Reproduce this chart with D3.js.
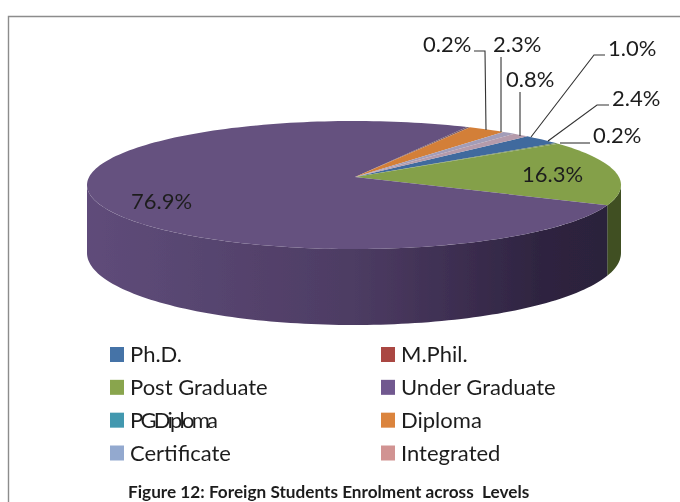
<!DOCTYPE html>
<html>
<head>
<meta charset="utf-8">
<script src="https://cdn.jsdelivr.net/npm/d3@7"></script>
<style>
html, body { margin: 0; padding: 0; background: #fff; }
text { font-family: Lato, "Open Sans", sans-serif; fill: #1f1f1f; }
</style>
</head>
<body>
<div id="chart"></div>
<script>
var levels = ["Ph.D.", "M.Phil.", "Post Graduate", "Under Graduate", "PGDiploma", "Diploma", "Certificate", "Integrated"];
var shares = [2.4, 0.2, 16.3, 76.9, 0.2, 2.3, 0.8, 1.0];
var colors = ["#4573a7", "#aa4643", "#89a54e", "#71588f", "#4298af", "#db843d", "#93a9cf", "#d19392"];
// top face is a bit duller than the legend, the two thin slices hardly show
var topColors = ["#3f6a9e", "#70895a", "#84a04a", "#65517f", "#7a5f6c", "#d37f39", "#a39db8", "#b59bab"];
var title = "Figure 12: Foreign Students Enrolment across  Levels";

var WIDTH = 680, HEIGHT = 502;
var cx = 354, cy = 185, rx = 267, ry = 64;
var apex = [355, 177];
var toRad = Math.PI / 180;

var svg = d3.select("#chart").append("svg")
    .attr("width", WIDTH)
    .attr("height", HEIGHT)
    .style("display", "block");

var defs = svg.append("defs");
var grad = defs.append("linearGradient")
    .attr("id", "sideGrad")
    .attr("gradientUnits", "userSpaceOnUse")
    .attr("x1", cx - rx).attr("x2", cx + rx).attr("y1", 0).attr("y2", 0);
grad.append("stop").attr("offset", "0").attr("stop-color", "#5f4c7a");
grad.append("stop").attr("offset", "0.5").attr("stop-color", "#4d3c63");
grad.append("stop").attr("offset", "0.68").attr("stop-color", "#3e2f52");
grad.append("stop").attr("offset", "0.85").attr("stop-color", "#2e2440");
grad.append("stop").attr("offset", "1").attr("stop-color", "#2b2139");
defs.append("filter").attr("id", "soft")
    .append("feGaussianBlur").attr("stdDeviation", 0.45);

var root = svg.append("g").attr("filter", "url(#soft)");

// frame, only top and left are in the picture
root.append("path")
    .attr("d", line0())
    .attr("fill", "none")
    .attr("stroke", "#8c8c8c")
    .attr("stroke-width", 1.4);
function line0() {
    return d3.line()([[8.5, HEIGHT + 2], [8.5, 16.5], [WIDTH + 2, 16.5]]);
}

var pie = d3.pie().sort(null)
    .startAngle(40.5 * toRad)
    .endAngle((40.5 + 360) * toRad);
var arcs = pie(shares);

function rim(a, dy, r) {
    return [cx + rx * Math.sin(a), cy - (r || ry) * Math.cos(a) + (dy || 0)];
}
function rimPoints(a0, a1, dy, r) {
    var n = Math.max(2, Math.ceil((a1 - a0) / (toRad * 1.5)));
    return d3.range(n + 1).map(function(i) { return rim(a0 + (a1 - a0) * i / n, dy, r); });
}
var line = d3.line();

// side wall, only the front half of the rim shows
var sides = root.append("g");
arcs.forEach(function(d, i) {
    var a0 = Math.max(d.startAngle, 90 * toRad);
    var a1 = Math.min(d.endAngle, 270 * toRad);
    if (a1 <= a0) return;
    var pts = rimPoints(a0, a1, 0).concat(rimPoints(a0, a1, 68, 72).reverse());
    sides.append("path")
        .attr("d", line(pts) + "Z")
        .attr("fill", levels[i] == "Under Graduate" ? "url(#sideGrad)" : "#3f4f24");
});

// top face
var tops = root.append("g");
arcs.forEach(function(d, i) {
    var pts = [apex].concat(rimPoints(d.startAngle, d.endAngle, 0));
    tops.append("path")
        .attr("d", line(pts) + "Z")
        .attr("fill", topColors[i]);
});

// value labels
var labelAt = [[423, 52], [493, 52], [506, 87], [608, 56], [612, 106], [593, 143], [522, 182], [131, 209]];
var labelIdx = [4, 5, 6, 7, 0, 1, 2, 3];
labelIdx.forEach(function(k, j) {
    root.append("text")
        .attr("x", labelAt[j][0]).attr("y", labelAt[j][1])
        .attr("font-size", 22)
        .text(shares[k].toFixed(1) + "%");
});

// leader lines
var leaders = [
    [[474, 51], [485, 51], [486, 130]],
    [[501, 57], [501, 132]],
    [[520, 92], [520, 136]],
    [[605, 55], [594, 55], [531, 137]],
    [[609, 105], [597, 105], [548, 141]],
    [[590, 143], [560, 143]]
];
leaders.forEach(function(p) {
    root.append("path")
        .attr("d", line(p))
        .attr("fill", "none")
        .attr("stroke", "#333")
        .attr("stroke-width", 1.1);
});

// legend
var legendX = [110, 381];
var legendY = d3.scalePoint().domain([0, 1, 2, 3]).range([354.5, 453]);
levels.forEach(function(name, i) {
    var col = i % 2, row = Math.floor(i / 2);
    root.append("rect")
        .attr("x", legendX[col]).attr("y", legendY(row) - 7.5)
        .attr("width", 14).attr("height", 15)
        .attr("fill", colors[i]);
    var t = root.append("text")
        .attr("x", legendX[col] + 20).attr("y", legendY(row) + 7.5)
        .attr("font-size", 22)
        .text(name);
    if (name == "PGDiploma") t.attr("textLength", 88);
});

root.append("text")
    .attr("x", 128).attr("y", 498)
    .attr("font-size", 17.2)
    .attr("font-weight", 700)
    .style("white-space", "pre")
    .text(title);
</script>
</body>
</html>
